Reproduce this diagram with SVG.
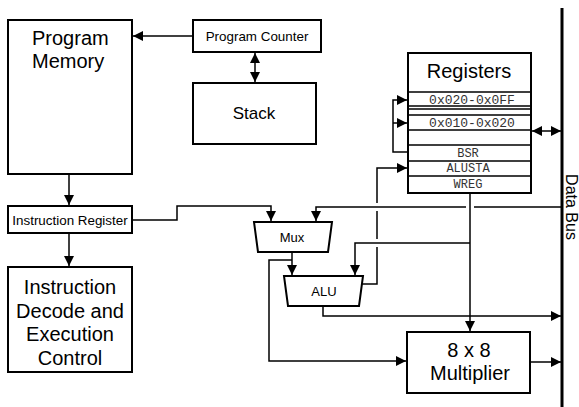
<svg xmlns="http://www.w3.org/2000/svg" width="579" height="407" viewBox="0 0 579 407">
<defs>
<style>
.box{fill:#fff;stroke:#000;stroke-width:2}
.ln{fill:none;stroke:#000;stroke-width:1.5}
.row{fill:none;stroke:#000;stroke-width:1.5}
.t{font-family:"Liberation Sans",Arial,sans-serif;fill:#000}
.m{font-family:"Liberation Mono","Courier New",monospace;fill:#333;text-anchor:middle}
.c{text-anchor:middle}
</style>
<marker id="ah" markerUnits="userSpaceOnUse" markerWidth="10" markerHeight="10" viewBox="0 0 10 10" refX="10" refY="5" orient="auto-start-reverse">
<path d="M0,0 L10,5 L0,10 z" fill="#000"/>
</marker>
</defs>
<rect width="579" height="407" fill="#fff"/>

<g id="connectors">
<path class="ln" d="M193,36 H133" marker-end="url(#ah)"/>
<path class="ln" d="M255,53 V82" marker-start="url(#ah)" marker-end="url(#ah)"/>
<path class="ln" d="M69,174 V205" marker-end="url(#ah)"/>
<path class="ln" d="M69,234 V266" marker-end="url(#ah)"/>
<path class="ln" d="M133,220 H177 V206 H271 V221" marker-end="url(#ah)"/>
<path class="ln" d="M561,207 H474 M466,207 H316 V221" marker-end="url(#ah)"/>
<path class="ln" d="M359,284 H377 V247 M377,239 V211 M377,203 V168 H407" marker-end="url(#ah)"/>
<path class="ln" d="M470,193 V331" marker-end="url(#ah)"/>
<path class="ln" d="M470,243 H355 V275" marker-end="url(#ah)"/>
<path class="ln" d="M292,253 V275" marker-end="url(#ah)"/>
<path class="ln" d="M292,260 H269 V361 H406" marker-end="url(#ah)"/>
<path class="ln" d="M323,307 V316 H561" marker-end="url(#ah)"/>
<path class="ln" d="M531,362 H561" marker-end="url(#ah)"/>
<path class="ln" d="M532,131 H561" marker-start="url(#ah)" marker-end="url(#ah)"/>
<path class="ln" d="M408,152 H393 V100 H407" marker-end="url(#ah)"/>
<path class="ln" d="M393,123 H407" marker-end="url(#ah)"/>
</g>

<g id="data-bus">
<line x1="562" y1="8" x2="562" y2="407" stroke="#000" stroke-width="3"/>
<text class="t c" font-size="16" transform="translate(566,207) rotate(90)">Data Bus</text>
</g>

<g id="program-memory">
<rect class="box" x="8" y="20" width="124" height="154"/>
<text class="t" x="32" y="45" font-size="20">Program</text>
<text class="t" x="32" y="68" font-size="20">Memory</text>
</g>

<g id="program-counter">
<rect class="box" x="193" y="20" width="128" height="32"/>
<text class="t c" x="257" y="41" font-size="13.4">Program Counter</text>
</g>

<g id="stack">
<rect class="box" x="193" y="83" width="123" height="61"/>
<text class="t c" x="254" y="119" font-size="17">Stack</text>
</g>

<g id="instruction-register">
<rect class="box" x="8" y="206" width="124" height="27"/>
<text class="t c" x="70" y="225" font-size="13.4">Instruction Register</text>
</g>

<g id="decode">
<rect class="box" x="8" y="267" width="124" height="105"/>
<text class="t c" x="70" y="294" font-size="20">Instruction</text>
<text class="t c" x="70" y="318" font-size="20">Decode and</text>
<text class="t c" x="70" y="341" font-size="20">Execution</text>
<text class="t c" x="70" y="365" font-size="20">Control</text>
</g>

<g id="mux">
<path class="box" d="M254,222 H332 L328,252 H258 Z"/>
<text class="t c" x="292" y="242" font-size="13">Mux</text>
</g>

<g id="alu">
<path class="box" d="M284,276 H363 L359,306 H288 Z"/>
<text class="t c" x="324" y="296" font-size="13">ALU</text>
</g>

<g id="multiplier">
<rect class="box" x="407" y="332" width="123" height="61"/>
<text class="t c" x="469" y="357" font-size="20">8 x 8</text>
<text class="t c" x="470" y="380" font-size="20">Multiplier</text>
</g>

<g id="registers">
<rect class="box" x="408" y="53" width="123" height="140"/>
<text class="t c" x="469" y="78" font-size="20">Registers</text>
<path class="row" d="M408,92 H531 M408,106 H531 M408,109 H531 M408,115 H531 M408,130 H531 M408,145 H531 M408,161 H531 M408,176 H531"/>
<text class="m" x="472" y="104" font-size="13">0x020-0x0FF</text>
<text class="m" x="472" y="127" font-size="13">0x010-0x020</text>
<text class="m" x="468" y="157" font-size="12">BSR</text>
<text class="m" x="468" y="172" font-size="12">ALUSTA</text>
<text class="m" x="468" y="188" font-size="12">WREG</text>
</g>
</svg>
